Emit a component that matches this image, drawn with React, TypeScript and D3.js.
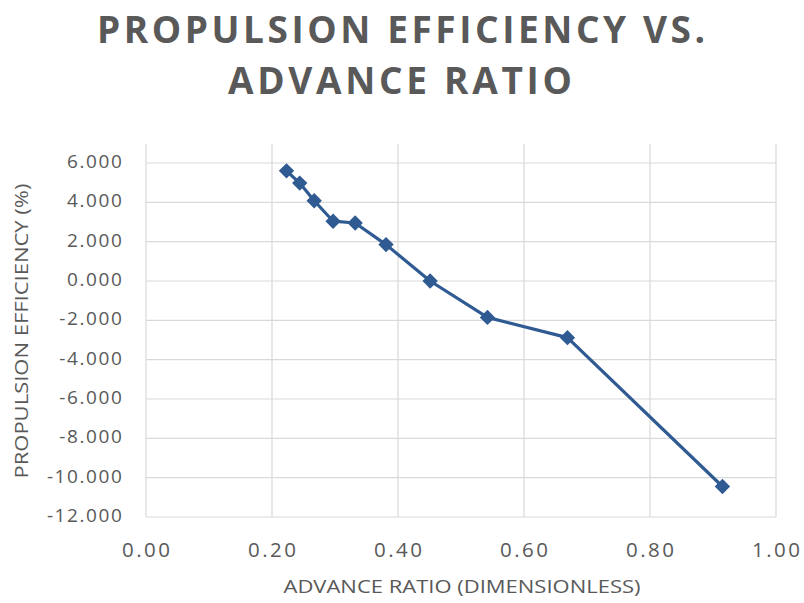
import React from "react";
import * as d3 from "d3";

// Advance ratio J (dimensionless) and propulsion efficiency (%)
const advanceRatio = [0.223, 0.244, 0.267, 0.297, 0.332, 0.381, 0.451, 0.542, 0.669, 0.915];
const efficiency = [5.6, 4.98, 4.08, 3.04, 2.95, 1.85, 0.0, -1.85, -2.88, -10.45];
const xTicks = [0, 0.2, 0.4, 0.6, 0.8, 1.0];
const yTicks = [6, 4, 2, 0, -2, -4, -6, -8, -10, -12];

const W = 804;
const H = 603;
const plot = { left: 146, right: 776, top: 163, bottom: 517 };
const gray = "#595959";
const gridColor = "#d9d9d9";
const seriesColor = "#2f5a92";

const fmtY = (v: number) => d3.format(".3f")(v).replace("\u2212", "-");
const fmtX = (v: number) => d3.format(".2f")(v);

export default function App() {
  const x = d3.scaleLinear().domain([0, 1]).range([plot.left, plot.right]);
  const y = d3.scaleLinear().domain([-12, 6]).range([plot.bottom, plot.top]);
  const pts = advanceRatio.map((a, i) => [a, efficiency[i]] as [number, number]);
  const line = d3
    .line<[number, number]>()
    .x((d) => x(d[0]))
    .y((d) => y(d[1]));
  const diamond = d3.symbol().type(d3.symbolDiamond2).size(150)();

  return (
    <svg
      width={W}
      height={H}
      style={{ position: "absolute", left: 0, top: 0, background: "#fff" }}
      fontFamily="'Open Sans', 'DejaVu Sans', sans-serif"
    >
      <g fill={gray} fontWeight="bold" fontSize={37} textAnchor="middle">
        <text x={401} y={43} textLength={608} lengthAdjust="spacing">PROPULSION EFFICIENCY VS.</text>
        <text x={400} y={94} textLength={344} lengthAdjust="spacing">ADVANCE RATIO</text>
      </g>

      {/* grid */}
      <g stroke={gridColor} strokeWidth={1.2}>
        {xTicks.map((t) => (
          <line key={"gx" + t} x1={x(t)} x2={x(t)} y1={plot.top - 19} y2={plot.bottom} />
        ))}
        {yTicks.map((t) => (
          <line key={"gy" + t} x1={plot.left} x2={plot.right} y1={y(t)} y2={y(t)} />
        ))}
      </g>

      {/* tick labels */}
      <g fill={gray} fontSize={19} textAnchor="end" letterSpacing={1.6}>
        {yTicks.map((t) => (
          <text key={"ty" + t} x={123.5} y={y(t) + 5}>
            {fmtY(t)}
          </text>
        ))}
      </g>
      <g fill={gray} fontSize={20.5} textAnchor="middle" letterSpacing={2.4}>
        {xTicks.map((t) => (
          <text key={"tx" + t} x={x(t) + 1.2} y={557}>
            {fmtX(t)}
          </text>
        ))}
      </g>

      {/* axis titles */}
      <text
        x={462}
        y={593}
        fill={gray}
        fontSize={19}
        textAnchor="middle"
        textLength={357}
        lengthAdjust="spacingAndGlyphs"
      >
        ADVANCE RATIO (DIMENSIONLESS)
      </text>
      <text
        transform="translate(28,331) rotate(-90)"
        fill={gray}
        fontSize={19}
        textAnchor="middle"
        textLength={295}
        lengthAdjust="spacingAndGlyphs"
      >
        PROPULSION EFFICIENCY (%)
      </text>

      {/* series */}
      <path d={line(pts) || ""} fill="none" stroke={seriesColor} strokeWidth={3.2} strokeLinejoin="round" />
      {pts.map((p, i) => (
        <path key={"m" + i} d={diamond || ""} transform={`translate(${x(p[0])},${y(p[1])})`} fill={seriesColor} />
      ))}
    </svg>
  );
}
